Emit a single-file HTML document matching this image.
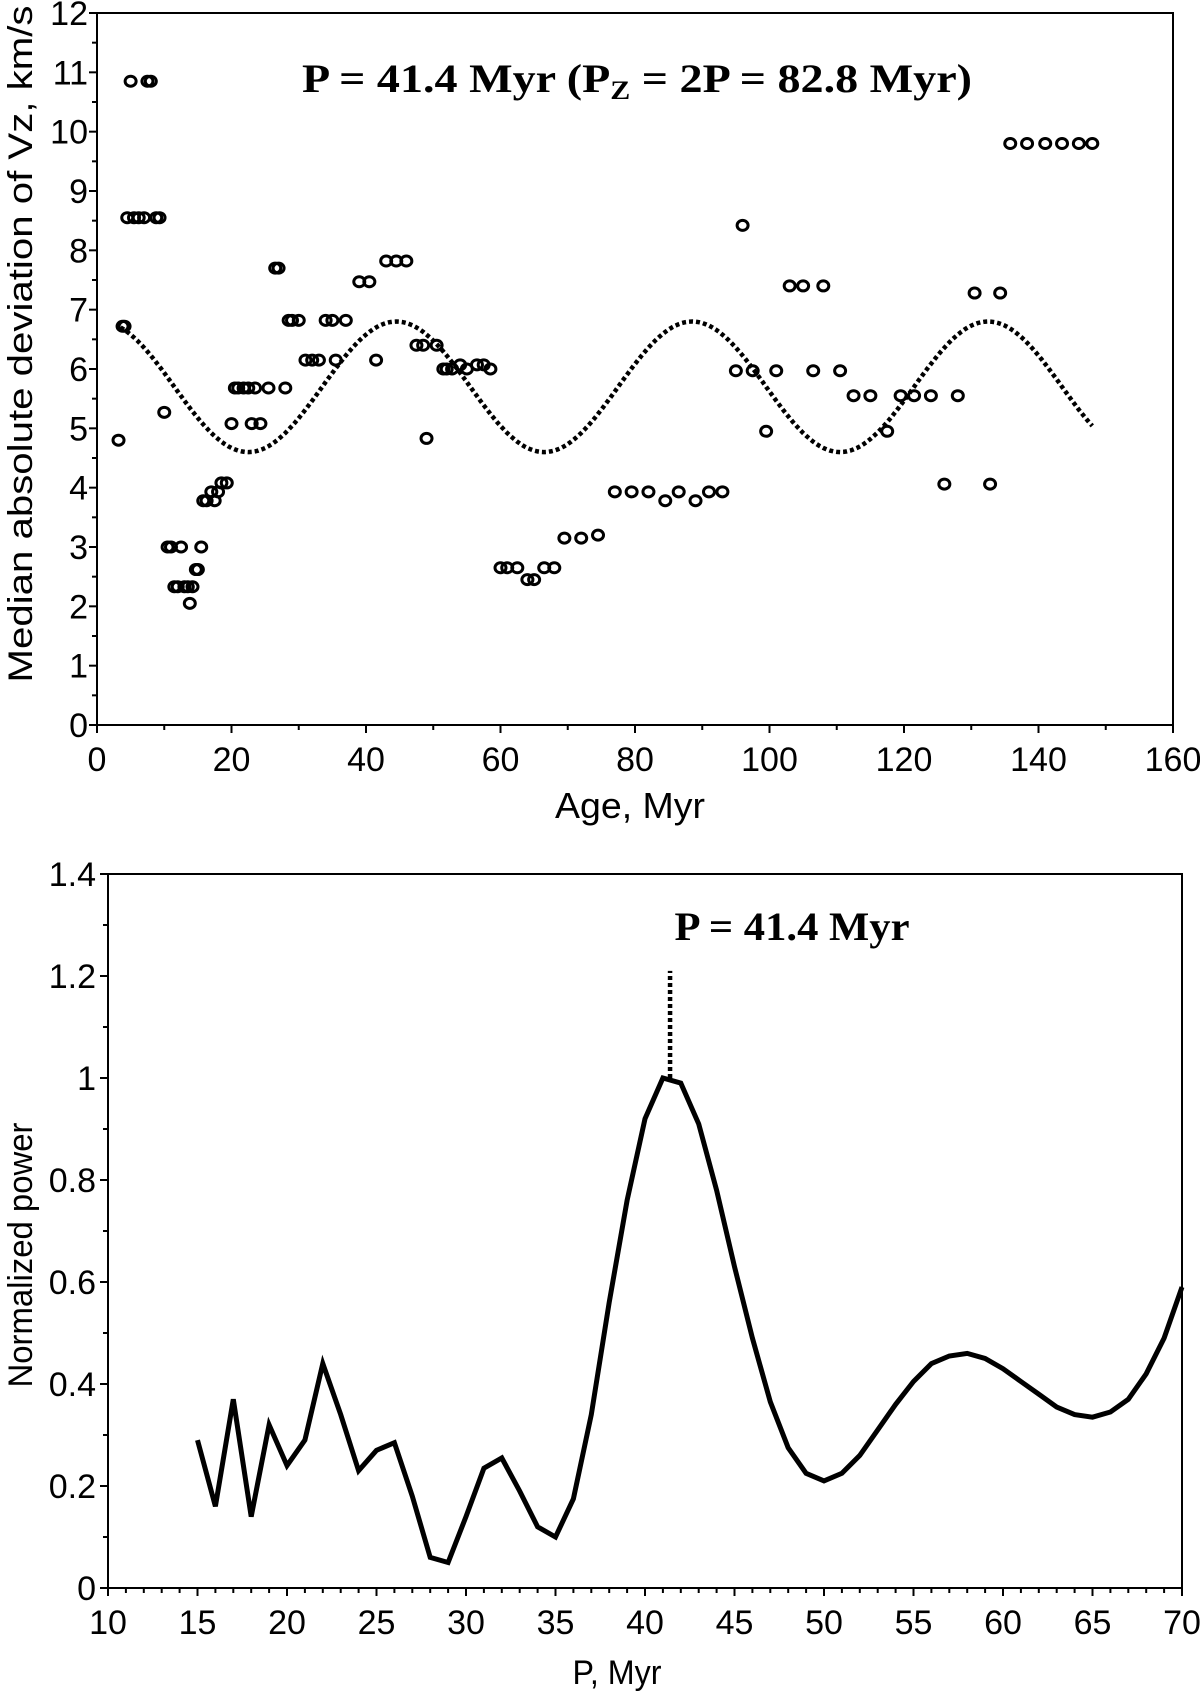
<!DOCTYPE html>
<html><head><meta charset="utf-8"><style>
html,body{margin:0;padding:0;background:#fff;}
svg{display:block;}
text{font-family:"Liberation Sans",sans-serif;fill:#000;}
.serif{font-family:"Liberation Serif",serif;font-weight:bold;}
</style></head><body>
<svg id="fig" width="1200" height="1694" viewBox="0 0 1200 1694" xmlns="http://www.w3.org/2000/svg">
<g id="topchart"></g>
<g id="botchart"></g>
</svg>
<script>
// ---- top chart data ----
const ages=[3.2,3.8,4.1,4.5,5,5.5,6.2,7,7.5,8,8.8,9.3,10,10.5,11,11.5,12,12.5,13,13.5,13.8,14.2,14.7,15,15.5,15.8,16.3,17,17.5,18,18.5,19.3,20,20.5,21,21.8,22.5,23,23.5,24.3,25.5,26.5,27,28,28.5,29,30,31,32,33,34,35,35.5,37,39,40.5,41.5,43,44.5,46,47.5,48.5,49,50.5,51.5,52,52.8,54,55,56.5,57.5,58.5,60,61,62.5,64,65,66.5,68,69.5,72,74.5,77,79.5,82,84.5,86.5,89,91,93,95,96,97.5,99.5,101,103,105,106.5,108,110.5,112.5,115,117.5,119.5,121.5,124,126,128,130.5,132.8,134.3,135.8,138.3,141,143.5,146,148];
const mads=[4.8,6.72,6.72,8.55,10.85,8.55,8.55,8.55,10.85,10.85,8.55,8.55,5.27,3.0,3.0,2.33,2.33,3.0,2.33,2.33,2.05,2.33,2.62,2.62,3.0,3.78,3.78,3.93,3.78,3.93,4.08,4.08,5.08,5.68,5.68,5.68,5.68,5.08,5.68,5.08,5.68,7.7,7.7,5.68,6.82,6.82,6.82,6.15,6.15,6.15,6.82,6.82,6.15,6.82,7.47,7.47,6.15,7.82,7.82,7.82,6.4,6.4,4.83,6.4,6.0,6.0,6.0,6.07,6.0,6.07,6.07,6.0,2.65,2.65,2.65,2.45,2.45,2.65,2.65,3.15,3.15,3.2,3.93,3.93,3.93,3.78,3.93,3.78,3.93,3.93,5.97,8.42,5.97,4.95,5.97,7.4,7.4,5.97,7.4,5.97,5.55,5.55,4.95,5.55,5.55,5.55,4.06,5.55,7.28,4.06,7.28,9.8,9.8,9.8,9.8,9.8,9.8];
const topXTicks=[0,20,40,60,80,100,120,140,160];
const topYTicks=[0,1,2,3,4,5,6,7,8,9,10,11,12];
const fitMean=[5.7], fitAmp=[1.1], fitPeriod=[44], fitPeakAge=[44.5], fitRange=[3.5,148];
// ---- bottom chart data ----
const periods=[15,16,17,18,19,20,21,22,23,24,25,26,27,28,29,30,31,32,33,34,35,36,37,38,39,40,41,42,43,44,45,46,47,48,49,50,51,52,53,54,55,56,57,58,59,60,61,62,63,64,65,66,67,68,69,70];
const power=[0.29,0.16,0.37,0.14,0.32,0.24,0.29,0.44,0.34,0.23,0.27,0.285,0.18,0.06,0.05,0.14,0.235,0.255,0.19,0.12,0.10,0.175,0.34,0.56,0.76,0.92,1.0,0.99,0.91,0.78,0.63,0.49,0.365,0.275,0.225,0.21,0.225,0.26,0.31,0.36,0.405,0.44,0.455,0.46,0.45,0.43,0.405,0.38,0.355,0.34,0.335,0.345,0.37,0.42,0.49,0.59];
const botXTicks=[10,15,20,25,30,35,40,45,50,55,60,65,70];
const botYTicks=[0,0.2,0.4,0.6,0.8,1,1.2,1.4];
const peakP=[41.4], peakMarkTop=[1.21];

const NS="http://www.w3.org/2000/svg";
function mk(parent,tag,attrs,txt){const e=document.createElementNS(NS,tag);for(const k in attrs)e.setAttribute(k,attrs[k]);if(txt!==undefined)e.textContent=txt;parent.appendChild(e);return e;}

// top axes
const T={l:97,r:1173,t:13,b:725,x0:0,x1:160,y0:0,y1:12};
const tx=v=>T.l+(v-T.x0)/(T.x1-T.x0)*(T.r-T.l);
const ty=v=>T.b-(v-T.y0)/(T.y1-T.y0)*(T.b-T.t);
const topG=document.getElementById('topchart');
let e=mk(topG,'rect',{x:T.l,y:T.t,width:T.r-T.l,height:T.b-T.t,fill:'none',stroke:'#000','stroke-width':2});


for(let v=0;v<=160;v+=10){const big=v%20===0;e=mk(topG,'line',{x1:tx(v),x2:tx(v),y1:T.b,y2:T.b+(big?8:5),stroke:'#000','stroke-width':2});

}
for(let v=0;v<=12;v+=0.5){const big=v%1===0;e=mk(topG,'line',{x1:T.l,x2:T.l-(big?8:5),y1:ty(v),y2:ty(v),stroke:'#000','stroke-width':2});

}
topXTicks.forEach(v=>{e=mk(topG,'text',{x:tx(v),y:T.b+46,'text-anchor':'middle','font-size':34},String(v));

});
topYTicks.forEach(v=>{e=mk(topG,'text',{x:T.l-9,y:ty(v)+12,'text-anchor':'end','font-size':34},String(v));

});
e=mk(topG,'text',{x:630,y:818,'text-anchor':'middle','font-size':36,textLength:150,lengthAdjust:'spacingAndGlyphs'},'Age, Myr');


e=mk(topG,'text',{x:0,y:0,'text-anchor':'middle','font-size':34,textLength:677,lengthAdjust:'spacingAndGlyphs',transform:'translate(32,344) rotate(-90)'},'Median absolute deviation of Vz, km/s');


e=mk(topG,'text',{x:637,y:92,'text-anchor':'middle','font-size':40,class:'serif',textLength:670,lengthAdjust:'spacingAndGlyphs'});


e.appendChild(document.createTextNode('P = 41.4 Myr (P'));
mk(e,'tspan',{'font-size':26,dy:7},'Z');
mk(e,'tspan',{dy:-7},' = 2P = 82.8 Myr)');
// fit curve
let pts=[];for(let a=fitRange[0];a<=fitRange[1]+1e-9;a+=0.5){const v=fitMean[0]+fitAmp[0]*Math.cos(2*Math.PI*(a-fitPeakAge[0])/fitPeriod[0]);pts.push(tx(a).toFixed(1)+','+ty(v).toFixed(1));}
e=mk(topG,'polyline',{points:pts.join(' '),fill:'none',stroke:'#000','stroke-width':4.5,'stroke-dasharray':'4 3'});


ages.forEach((a,i)=>{e=mk(topG,'ellipse',{cx:tx(a),cy:ty(mads[i]),rx:5.5,ry:5,fill:'none',stroke:'#000','stroke-width':3});

});

// bottom axes
const B={l:108,r:1182,t:874,b:1588,x0:10,x1:70,y0:0,y1:1.4};
const bx=v=>B.l+(v-B.x0)/(B.x1-B.x0)*(B.r-B.l);
const by=v=>B.b-(v-B.y0)/(B.y1-B.y0)*(B.b-B.t);
const botG=document.getElementById('botchart');
e=mk(botG,'rect',{x:B.l,y:B.t,width:B.r-B.l,height:B.b-B.t,fill:'none',stroke:'#000','stroke-width':2});


for(let v=10;v<=70;v++){const big=v%5===0;e=mk(botG,'line',{x1:bx(v),x2:bx(v),y1:B.b,y2:B.b+(big?8:5),stroke:'#000','stroke-width':2});

}
for(let k=0;k<=14;k++){const v=k/10;const big=k%2===0;e=mk(botG,'line',{x1:B.l,x2:B.l-(big?8:5),y1:by(v),y2:by(v),stroke:'#000','stroke-width':2});

}
botXTicks.forEach(v=>{e=mk(botG,'text',{x:bx(v),y:B.b+46,'text-anchor':'middle','font-size':34},String(v));

});
botYTicks.forEach(v=>{e=mk(botG,'text',{x:B.l-12,y:by(v)+12,'text-anchor':'end','font-size':34},String(v));

});
e=mk(botG,'text',{x:617,y:1684,'text-anchor':'middle','font-size':34,textLength:89,lengthAdjust:'spacingAndGlyphs'},'P, Myr');


e=mk(botG,'text',{x:0,y:0,'text-anchor':'middle','font-size':34,textLength:265,lengthAdjust:'spacingAndGlyphs',transform:'translate(32,1255) rotate(-90)'},'Normalized power');


e=mk(botG,'text',{x:792,y:940,'text-anchor':'middle','font-size':40,class:'serif',textLength:235,lengthAdjust:'spacingAndGlyphs'},'P = 41.4 Myr');


e=mk(botG,'line',{x1:bx(peakP[0]),x2:bx(peakP[0]),y1:by(1.0),y2:by(peakMarkTop[0]),stroke:'#000','stroke-width':4.5,'stroke-dasharray':'4 3'});


e=mk(botG,'polyline',{points:periods.map((p,i)=>bx(p).toFixed(1)+','+by(power[i]).toFixed(1)).join(' '),fill:'none',stroke:'#000','stroke-width':5,'stroke-linejoin':'miter'});


</script>
</body></html>
